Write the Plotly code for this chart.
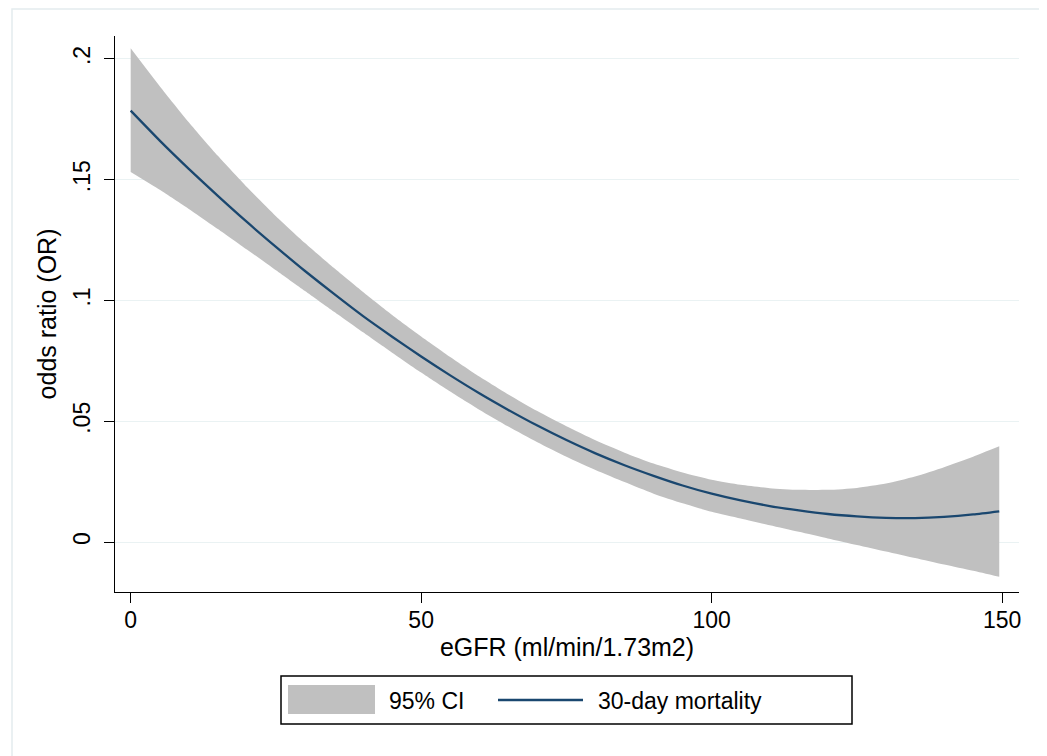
import plotly.graph_objects as go

# ---- data ----
egfr = [0, 5, 10, 15, 20, 25, 30, 35, 40, 45, 50, 55, 60, 65, 70, 75, 80, 85, 90,
        95, 100, 105, 110, 115, 120, 125, 130, 135, 140, 145, 149.5]
mortality = [0.1786, 0.1662, 0.1545, 0.1433, 0.1325, 0.1222, 0.1122, 0.1027, 0.0935,
             0.0850, 0.0768, 0.0690, 0.0616, 0.0547, 0.0482, 0.0422, 0.0367, 0.0318,
             0.0274, 0.0234, 0.0200, 0.0172, 0.0149, 0.0131, 0.0116, 0.0106, 0.0100,
             0.0099, 0.0104, 0.0114, 0.0127]
ci_upper = [0.2044, 0.1887, 0.1738, 0.1599, 0.1470, 0.1349, 0.1238, 0.1134, 0.1035,
            0.0940, 0.0851, 0.0766, 0.0685, 0.0611, 0.0542, 0.0479, 0.0421, 0.0370,
            0.0325, 0.0288, 0.0258, 0.0237, 0.0223, 0.0216, 0.0216, 0.0224, 0.0242,
            0.0271, 0.0310, 0.0353, 0.0396]
ci_lower = [0.1532, 0.1458, 0.1379, 0.1296, 0.1211, 0.1125, 0.1039, 0.0953, 0.0868,
            0.0784, 0.0702, 0.0623, 0.0548, 0.0478, 0.0413, 0.0353, 0.0298, 0.0248,
            0.0200, 0.0160, 0.0125, 0.0097, 0.0069, 0.0042, 0.0015, -0.0012, -0.0039,
            -0.0066, -0.0093, -0.0119, -0.0144]

x_ticks = [0, 50, 100, 150]
x_tick_labels = ["0", "50", "100", "150"]
y_ticks = [0, 0.05, 0.1, 0.15, 0.2]
y_tick_labels = ["0", ".05", ".1", ".15", ".2"]

x_title = "eGFR (ml/min/1.73m2)"
y_title = "odds ratio (OR)"
legend_ci = "95% CI"
legend_line = "30-day mortality"

# ---- styling ----
FONT = "Liberation Sans, Arial, Helvetica, sans-serif"
CI_COLOR = "#C0C0C0"
LINE_COLOR = "#1A476F"
GRID_COLOR = "#EAF2F3"

OFF = 8  # page body margin offset
W, H = 1047 - OFF, 756 - OFF
# plot area in screen pixels: x 115..1019, y 36..592
L, T = 115 - OFF, 36 - OFF
PW, PH = 904, 556
R, B = W - L - PW, H - T - PH


def px2x(px):
    return (px - OFF - L) / PW


def px2y(py):
    return (T + PH - (py - OFF)) / PH


fig = go.Figure()
fig.add_trace(go.Scatter(x=egfr, y=ci_lower, mode="lines",
                         line=dict(width=0, shape="spline", smoothing=0.6),
                         showlegend=False, hoverinfo="skip"))
fig.add_trace(go.Scatter(x=egfr, y=ci_upper, mode="lines",
                         line=dict(width=0, shape="spline", smoothing=0.6),
                         fill="tonexty", fillcolor=CI_COLOR, name=legend_ci,
                         showlegend=False))
fig.add_trace(go.Scatter(x=egfr, y=mortality, mode="lines",
                         line=dict(color=LINE_COLOR, width=2.3, shape="spline", smoothing=0.6),
                         name=legend_line, showlegend=False))

fig.update_layout(
    width=W, height=H,
    margin=dict(l=L, r=R, t=T, b=B, autoexpand=False),
    paper_bgcolor="white", plot_bgcolor="white",
    font=dict(family=FONT, size=23, color="black"),
    showlegend=False,
)
fig.update_xaxes(
    range=[-2.7, 152.9], tickvals=x_ticks, ticktext=x_tick_labels,
    showgrid=False, zeroline=False, showline=True, linecolor="black", linewidth=1.3,
    ticks="outside", ticklen=10, tickwidth=1.3, tickcolor="black",
    tickfont=dict(size=23), ticklabelstandoff=-3,
    title=dict(text=x_title, font=dict(size=25), standoff=4),
)
fig.update_yaxes(
    range=[-0.0207, 0.2095], tickvals=y_ticks, ticktext=y_tick_labels,
    showgrid=True, gridcolor=GRID_COLOR, gridwidth=1.3, zeroline=False,
    showline=True, linecolor="black", linewidth=1.3,
    ticks="outside", ticklen=10, tickwidth=1.3, tickcolor="black",
    tickangle=-90, tickfont=dict(size=23), ticklabelstandoff=5,
    title=dict(text=y_title, font=dict(size=25), standoff=4),
)

shapes = [
    # outer graph-region frame
    dict(type="rect", xref="paper", yref="paper",
         x0=px2x(12), x1=px2x(1043), y0=px2y(770), y1=px2y(9),
         line=dict(color="#E4ECEE", width=1.5), fillcolor="rgba(0,0,0,0)", layer="below"),
    # legend box
    dict(type="rect", xref="paper", yref="paper",
         x0=px2x(281), x1=px2x(852), y0=px2y(724), y1=px2y(676),
         line=dict(color="black", width=1.5), fillcolor="white"),
    # legend CI swatch
    dict(type="rect", xref="paper", yref="paper",
         x0=px2x(288), x1=px2x(375), y0=px2y(714), y1=px2y(685),
         line=dict(width=0), fillcolor=CI_COLOR),
    # legend line sample
    dict(type="line", xref="paper", yref="paper",
         x0=px2x(498), x1=px2x(583), y0=px2y(700), y1=px2y(700),
         line=dict(color=LINE_COLOR, width=2.3)),
]
annotations = [
    dict(text=legend_ci, xref="paper", yref="paper", x=px2x(387), y=px2y(701),
         xanchor="left", yanchor="middle", showarrow=False, font=dict(size=23)),
    dict(text=legend_line, xref="paper", yref="paper", x=px2x(596), y=px2y(701),
         xanchor="left", yanchor="middle", showarrow=False, font=dict(size=23)),
]
fig.update_layout(shapes=shapes, annotations=annotations)

fig.write_html("out.html")
